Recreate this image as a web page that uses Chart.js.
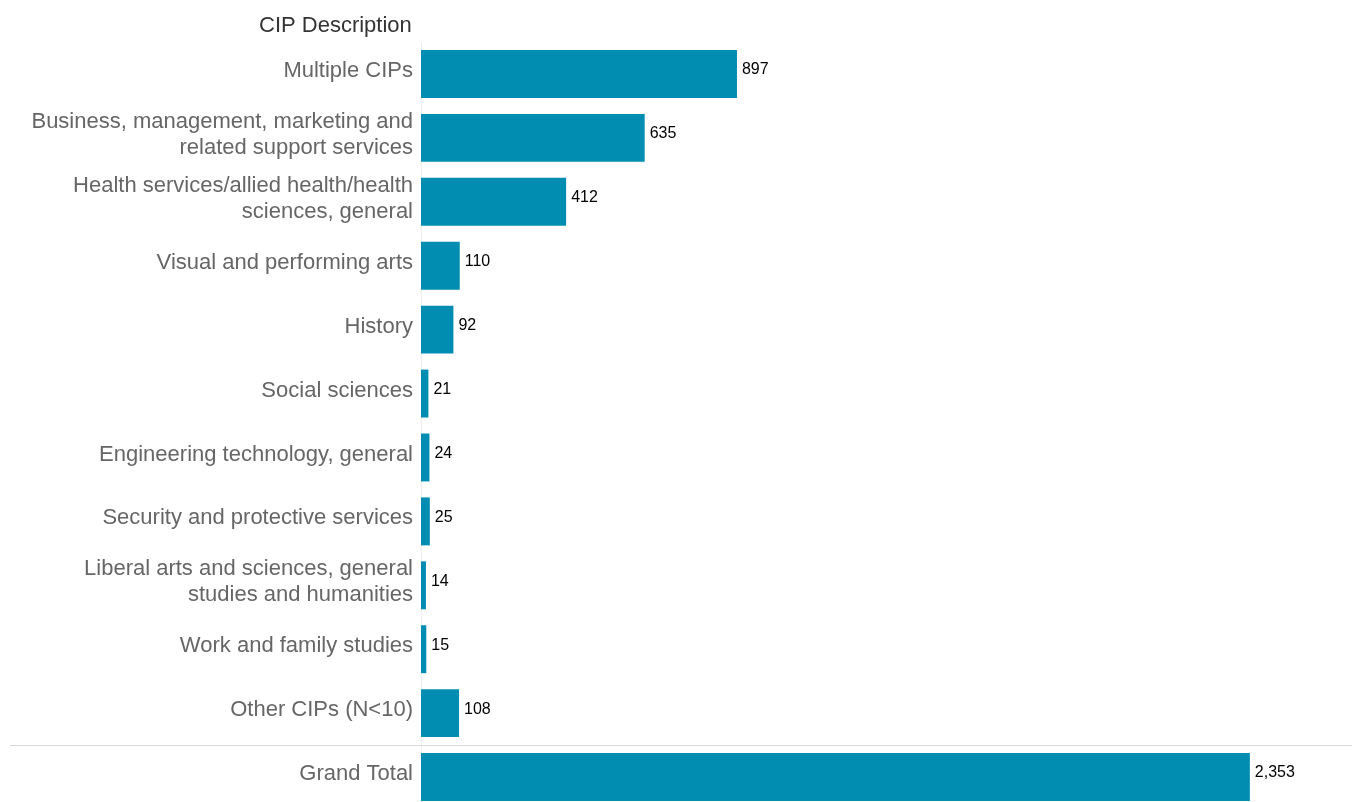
<!DOCTYPE html>
<html>
<head>
<meta charset="utf-8">
<script src="https://cdn.jsdelivr.net/npm/chart.js@4"></script>
<style>
  html, body { margin: 0; padding: 0; background: #fff; overflow: hidden; }
  #wrap { width: 1352px; height: 830px; }
</style>
</head>
<body>
<div id="wrap"><canvas id="cip-chart" width="1352" height="830"></canvas></div>
<script>
const headerText = 'CIP Description';
const categories = [
  'Multiple CIPs',
  ['Business, management, marketing and', 'related support services'],
  ['Health services/allied health/health', 'sciences, general'],
  'Visual and performing arts',
  'History',
  'Social sciences',
  'Engineering technology, general',
  'Security and protective services',
  ['Liberal arts and sciences, general', 'studies and humanities'],
  'Work and family studies',
  'Other CIPs (N<10)',
  'Grand Total'
];
const counts = [897, 635, 412, 110, 92, 21, 24, 25, 14, 15, 108, 2353];

const barColor = '#018DB2';
const fontFamily = '"Liberation Sans", Arial, Helvetica, sans-serif';

// header text above the labels
const headerPlugin = {
  id: 'header',
  afterDraw(chart) {
    const ctx = chart.ctx;
    ctx.save();
    ctx.font = '22px ' + fontFamily;
    ctx.fillStyle = '#333333';
    ctx.textAlign = 'left';
    ctx.textBaseline = 'middle';
    ctx.fillText(headerText, 259, 26);
    ctx.restore();
  }
};

// thin line separating the grand total row
const separatorPlugin = {
  id: 'separator',
  beforeDatasetsDraw(chart) {
    const y = chart.scales.y;
    const n = categories.length;
    const yy = Math.round((y.getPixelForValue(n - 2) + y.getPixelForValue(n - 1)) / 2) + 0.5;
    const ctx = chart.ctx;
    ctx.save();
    ctx.strokeStyle = '#d9d9d9';
    ctx.lineWidth = 1;
    ctx.beginPath();
    ctx.moveTo(10, yy);
    ctx.lineTo(chart.width, yy);
    ctx.stroke();
    ctx.restore();
  }
};

// value labels at bar ends
const valueLabels = {
  id: 'valueLabels',
  afterDatasetsDraw(chart) {
    const ctx = chart.ctx;
    const meta = chart.getDatasetMeta(0);
    ctx.save();
    ctx.font = '16px ' + fontFamily;
    ctx.fillStyle = '#000000';
    ctx.textAlign = 'left';
    ctx.textBaseline = 'middle';
    meta.data.forEach((bar, i) => {
      ctx.fillText(counts[i].toLocaleString('en-US'), bar.x + 5, bar.y - 4);
    });
    ctx.restore();
  }
};

new Chart(document.getElementById('cip-chart').getContext('2d'), {
  type: 'bar',
  data: {
    labels: categories,
    datasets: [{
      data: counts,
      backgroundColor: barColor,
      barPercentage: 0.75,
      categoryPercentage: 1.0
    }]
  },
  options: {
    indexAxis: 'y',
    responsive: false,
    animation: false,
    layout: { padding: { top: 42, bottom: 0, left: 0, right: 0 } },
    plugins: {
      legend: { display: false },
      tooltip: { enabled: false }
    },
    scales: {
      x: {
        display: false,
        min: 0,
        max: 2643
      },
      y: {
        afterFit(scale) { scale.width = 421; },
        grid: { display: false, drawTicks: false },
        border: { display: true, color: '#eeeeee', width: 1 },
        ticks: {
          color: '#666666',
          padding: 8,
          labelOffset: -3,
          font: { family: fontFamily, size: 22, lineHeight: 1.18 }
        }
      }
    }
  },
  plugins: [headerPlugin, separatorPlugin, valueLabels]
});
</script>
</body>
</html>
